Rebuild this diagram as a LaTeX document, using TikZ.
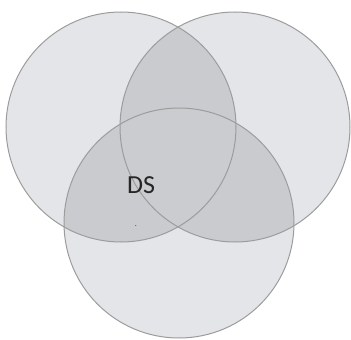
\documentclass[tikz,border=0pt]{standalone}
\usepackage{fontspec}
\setmainfont{Carlito}
\definecolor{onecol}{HTML}{E3E5E8}
\definecolor{twocol}{HTML}{C9CBCE}
\definecolor{threecol}{HTML}{CACCCF}
\definecolor{edgecol}{HTML}{9C9C9C}
\begin{document}
\begin{tikzpicture}[x=1pt,y=-1pt,
  ring/.style={draw=edgecol,line width=1pt}]
\useasboundingbox (0,0) rectangle (351,340);
\coordinate (L) at (121,127);
\coordinate (R) at (235,127);
\coordinate (B) at (179,223);
\def\rr{115}
% single fills
\fill[onecol] (L) circle (\rr);
\fill[onecol] (R) circle (\rr);
\fill[onecol] (B) circle (\rr);
% pairwise
\begin{scope}\clip (L) circle (\rr); \fill[twocol] (R) circle (\rr); \end{scope}
\begin{scope}\clip (L) circle (\rr); \fill[twocol] (B) circle (\rr); \end{scope}
\begin{scope}\clip (R) circle (\rr); \fill[twocol] (B) circle (\rr); \end{scope}
% triple
\begin{scope}\clip (L) circle (\rr); \clip (R) circle (\rr); \fill[threecol] (B) circle (\rr); \end{scope}
% outlines
\draw[ring] (L) circle (\rr);
\draw[ring] (R) circle (\rr);
\draw[ring] (B) circle (\rr);
\node[font=\fontsize{26}{30}\selectfont,text=black!85] (ds) at (141,185) {DS};
\node[font=\fontsize{8}{9}\selectfont,text=black!80,inner sep=0pt] (dot) at (136,226) {.};
\end{tikzpicture}
\end{document}
